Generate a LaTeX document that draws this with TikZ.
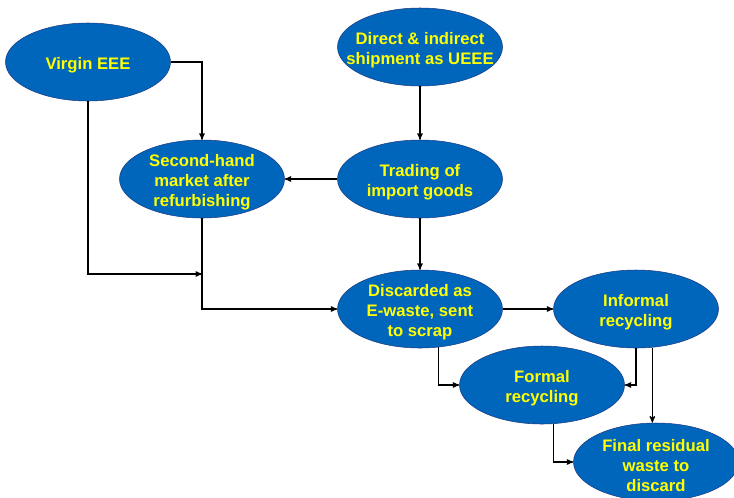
\documentclass[tikz,border=0pt]{standalone}
\usepackage{fontspec}
\setmainfont{Liberation Sans}
\usetikzlibrary{arrows,shapes.geometric,calc}
\definecolor{stageblue}{RGB}{0,102,187}
\definecolor{stageedge}{RGB}{28,58,130}
\definecolor{stageyellow}{RGB}{255,255,0}
\tikzset{
    >=stealth',
    stage/.style={
        ellipse,
        fill=stageblue,
        draw=stageedge, thin,
        minimum width=123.75pt,
        minimum height=58.5pt,
        inner sep=0pt
    },
    stagelabel/.style={
        align=center,
        text=stageyellow,
        yshift=-2.4pt,
        font=\fontsize{12.5}{15}\selectfont\bfseries
    },
    flow/.style={draw, line width=0.8pt, ->}
}

\begin{document}
\begin{tikzpicture}[x=0.75pt, y=-0.75pt]
    \useasboundingbox (0,0) rectangle (734,497);
    \clip (0,0) rectangle (734,497);

    \node[stage, label={[stagelabel]center:Virgin EEE}] (virgin) at (88,62) {};
    \node[stage, label={[stagelabel]center:{Direct \& indirect\\shipment as UEEE}}] (direct) at (420,47) {};
    \node[stage, label={[stagelabel]center:{Second-hand\\market after\\refurbishing}}] (second) at (202,179) {};
    \node[stage, label={[stagelabel]center:{Trading of\\import goods}}] (trading) at (420,179) {};
    \node[stage, label={[stagelabel]center:{Discarded as\\E-waste, sent\\to scrap}}] (discard) at (420,309) {};
    \node[stage, label={[stagelabel]center:{Informal\\recycling}}] (informal) at (636,309) {};
    \node[stage, label={[stagelabel]center:{Formal\\recycling}}] (formal) at (542,385) {};
    \node[stage, label={[stagelabel]center:{Final residual\\waste to\\discard}}] (final) at (656,462) {};

    \coordinate (merge) at (202,274);

    \draw[flow] (virgin.east) -| (second.north);
    \draw[flow] (virgin.south) |- (merge);
    \draw[flow] (second.south) |- (discard.west);
    \draw[flow] (direct.south) -- (trading.north);
    \draw[flow] (trading.west) -- (second.east);
    \draw[flow] (trading.south) -- (discard.north);
    \draw[flow] (discard.east) -- (informal.west);
    \draw[flow] (discard.-64) |- (formal.west);
    \draw[flow] (informal.south) |- (formal.east);
    \draw[flow] (informal.-67) -- (informal.-67 |- final.north);
    \draw[flow] (formal.-74) |- (final.west);
\end{tikzpicture}
\end{document}
